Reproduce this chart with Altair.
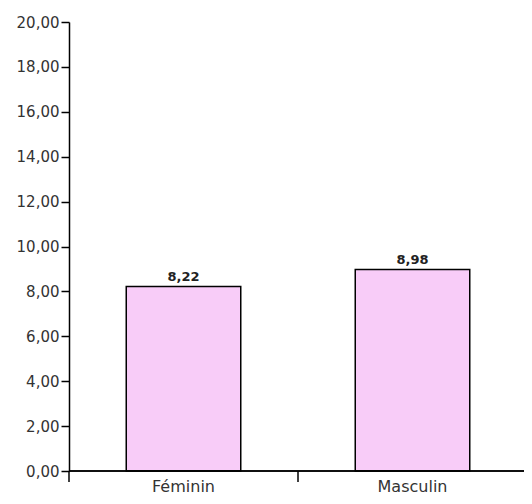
import altair as alt
import pandas as pd

categories = ["Féminin", "Masculin"]
values = [8.22, 8.98]
labels = ["8,22", "8,98"]
y_ticks = [0, 2, 4, 6, 8, 10, 12, 14, 16, 18, 20]

df = pd.DataFrame({"cat": categories, "val": values, "lab": labels})

W, H = 455, 449
xscale = alt.Scale(domain=categories, range=[0, 458], paddingInner=0, paddingOuter=0)

x = alt.X("cat:N", sort=categories, title=None, scale=xscale,
          axis=alt.Axis(labelAngle=0, ticks=False, tickSize=0, domain=False,
                        labelFont="DejaVu Sans", labelFontSize=16, labelColor="#333",
                        labelPadding=7, labelBaseline="top"))
y = alt.Y("val:Q", title=None,
          scale=alt.Scale(domain=[0, 20], nice=False, zero=True),
          axis=alt.Axis(values=y_ticks, grid=False, tickSize=8, tickWidth=1.5,
                        domainWidth=1.5, domainColor="black", tickColor="black",
                        labelExpr="replace(format(datum.value, '.2f'), '.', ',')",
                        labelFont="DejaVu Sans", labelFontSize=15, labelColor="#333",
                        labelPadding=2))

bars = alt.Chart(df).mark_bar(fill="#F8CCF8", stroke="black", strokeWidth=1.5,
                              width=alt.RelativeBandSize(0.5)).encode(x=x, y=y)
text = alt.Chart(df).mark_text(dy=-5, baseline="alphabetic", fontSize=13, fontWeight="bold",
                               font="DejaVu Sans", color="#222").encode(
    x=alt.X("cat:N", sort=categories, scale=xscale), y="val:Q", text="lab:N")
cat_ticks = alt.Chart(df).mark_rule(color="black", strokeWidth=1.5).encode(
    x=alt.X("cat:N", sort=categories, scale=xscale, bandPosition=0),
    y=alt.value(H), y2=alt.value(H + 11))
x_domain = alt.Chart(df).mark_rule(color="black", strokeWidth=1.5).encode(
    x=alt.value(0), x2=alt.value(W), y=alt.value(H))

chart = (bars + text + cat_ticks + x_domain).properties(
    width=W, height=H,
    autosize=alt.AutoSizeParams(type="none"),
    padding={"left": 61, "top": 14, "right": 0, "bottom": 25},
).configure_view(stroke=None)

chart.save("out.html", embed_options={"renderer": "svg", "actions": False})
